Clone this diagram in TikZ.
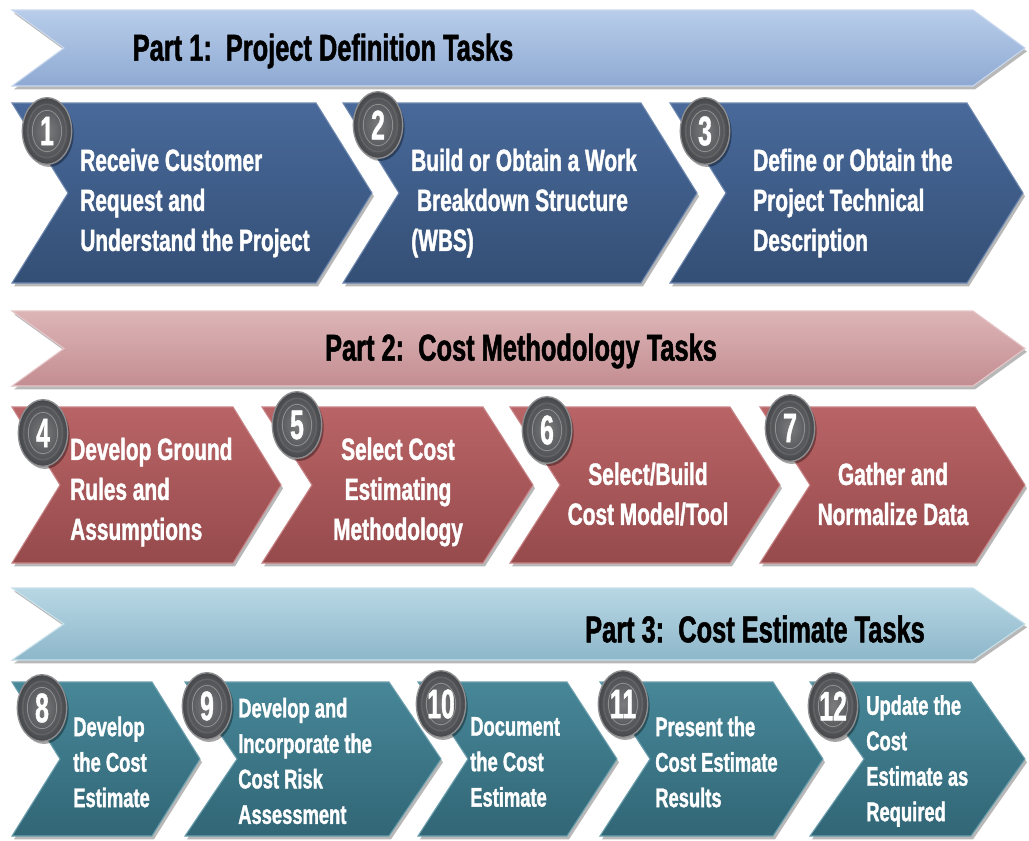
\documentclass[tikz,border=0pt]{standalone}
\usepackage{fontspec}
\setmainfont{Liberation Sans}[FakeStretch=0.68,BoldFeatures={FakeBold=1.3}]
\newfontfamily\discfont{Liberation Sans}[FakeStretch=0.6,BoldFeatures={FakeBold=1}]
\usetikzlibrary{shapes.geometric,shadows}

% band colours
\definecolor{bandAtop}{HTML}{B8CDEA}
\definecolor{bandAbot}{HTML}{8EA9D2}
\definecolor{bandAedge}{HTML}{C9D8EE}
\definecolor{bandBtop}{HTML}{DDB5B7}
\definecolor{bandBbot}{HTML}{C38D91}
\definecolor{bandBedge}{HTML}{E6C6C8}
\definecolor{bandCtop}{HTML}{B8D7E4}
\definecolor{bandCbot}{HTML}{8DB7CA}
\definecolor{bandCedge}{HTML}{C9E1EB}
% step colours
\definecolor{stepAtop}{HTML}{48699A}
\definecolor{stepAbot}{HTML}{344F75}
\definecolor{stepBtop}{HTML}{B96466}
\definecolor{stepBbot}{HTML}{964A4C}
\definecolor{stepCtop}{HTML}{478798}
\definecolor{stepCbot}{HTML}{316676}
% number discs
\definecolor{discout}{HTML}{46484C}
\definecolor{discin}{HTML}{7C7C7E}
\definecolor{discrim}{HTML}{8E8E90}

% arrow band / chevron outline: x1, x2, ytop, ybottom, point depth, style
\newcommand\chevronpath[6]{%
  \path[#6] (#1,#3) -- ({#2-#5},#3) -- (#2,{(#3+#4)/2}) -- ({#2-#5},#4)
    -- (#1,#4) -- ({#1+#5},{(#3+#4)/2}) -- cycle;}

\begin{document}
\begin{tikzpicture}[x=0.75pt,y=-0.75pt,
  softshadow/.style={drop shadow={shadow xshift=1.5pt,shadow yshift=-2.5pt,opacity=0.28,fill=black}},
  bandA/.style={softshadow,top color=bandAtop,bottom color=bandAbot,draw=bandAedge,line width=0.8pt},
  bandB/.style={softshadow,top color=bandBtop,bottom color=bandBbot,draw=bandBedge,line width=0.8pt},
  bandC/.style={softshadow,top color=bandCtop,bottom color=bandCbot,draw=bandCedge,line width=0.8pt},
  stepA/.style={softshadow,top color=stepAtop,bottom color=stepAbot,draw=stepAtop!80!white,line width=0.8pt},
  stepB/.style={softshadow,top color=stepBtop,bottom color=stepBbot,draw=stepBtop!80!white,line width=0.8pt},
  stepC/.style={softshadow,top color=stepCtop,bottom color=stepCbot,draw=stepCtop!80!white,line width=0.8pt},
  parttitle/.style={text=black,font=\bfseries\fontsize{28}{34}\selectfont,inner sep=0pt},
  bigtask/.style={text=white,font=\bfseries\fontsize{23}{30}\selectfont,inner sep=0pt,align=left,anchor=west},
  bigtaskc/.style={text=white,font=\bfseries\fontsize{23}{30}\selectfont,inner sep=0pt,align=center},
  smalltask/.style={text=white,font=\bfseries\fontsize{20.25}{26.6}\selectfont,inner sep=0pt,align=left,anchor=west},
  numdisc/.style={ellipse,minimum width=37pt,minimum height=50pt,inner sep=0pt,
    inner color=discin,outer color=discout,draw=discrim,line width=1pt,
    drop shadow={shadow xshift=1.5pt,shadow yshift=-2pt,opacity=0.35,fill=black},
    text=white,font=\discfont\bfseries\fontsize{31}{32}\selectfont,
    path picture={
      \draw[discrim!70!black,line width=1.2pt] (path picture bounding box.center) ellipse (14.5pt and 20pt);
      \draw[discin!85!white,line width=0.6pt] (path picture bounding box.center) ellipse (11pt and 15.5pt);
    }},
]
\useasboundingbox[fill=white] (0,0) rectangle (1029,840);

% ---------------- Part 1 ----------------
\chevronpath{12}{1025}{10}{86}{52}{bandA}
\node[parttitle] (p1) at (323,51) {Part 1:\ \ Project Definition Tasks};

\chevronpath{12}{372}{103}{283}{56}{stepA}
\chevronpath{343}{697}{103}{283}{56}{stepA}
\chevronpath{670}{1023}{103}{283}{56}{stepA}

\node[bigtask] (t1) at (80,203) {Receive Customer\\Request and\\Understand the Project};
\node[bigtask] (t2) at (411,203) {Build or Obtain a Work\\\ Breakdown Structure\\(WBS)};
\node[bigtask] (t3) at (753,203) {Define or Obtain the\\Project Technical\\Description};

\node[numdisc] (n1) at (47,131) {1};
\node[numdisc] (n2) at (378,125) {2};
\node[numdisc] (n3) at (705,131) {3};

% ---------------- Part 2 ----------------
\chevronpath{12}{1025}{311}{386}{52}{bandB}
\node[parttitle] (p2) at (521,351) {Part 2:\ \ Cost Methodology Tasks};

\chevronpath{12}{281}{407}{563}{48}{stepB}
\chevronpath{262}{533}{407}{563}{50}{stepB}
\chevronpath{510}{780}{407}{563}{50}{stepB}
\chevronpath{760}{1025}{407}{563}{50}{stepB}

\node[bigtask] (t4) at (70,492) {Develop Ground\\Rules and\\Assumptions};
\node[bigtaskc] (t5) at (398,492) {Select Cost\\Estimating\\Methodology};
\node[bigtaskc] (t6) at (648,494) {Select/Build\\Cost Model/Tool};
\node[bigtaskc] (t7) at (893,494) {Gather and\\Normalize Data};

\node[numdisc] (n4) at (43,433) {4};
\node[numdisc] (n5) at (297,425) {5};
\node[numdisc] (n6) at (547,430) {6};
\node[numdisc] (n7) at (790,428) {7};

% ---------------- Part 3 ----------------
\chevronpath{12}{1025}{588}{660}{52}{bandC}
\node[parttitle] (p3) at (755,629) {Part 3:\ \ Cost Estimate Tasks};

\chevronpath{12}{200}{682}{836}{48}{stepC}
\chevronpath{185}{441}{682}{836}{52}{stepC}
\chevronpath{418}{617}{682}{836}{50}{stepC}
\chevronpath{600}{823}{682}{836}{50}{stepC}
\chevronpath{810}{1025}{682}{836}{54}{stepC}

\node[smalltask] (t8) at (73,762) {Develop\\the Cost\\Estimate};
\node[smalltask] (t9) at (238,761) {Develop and\\Incorporate the\\Cost Risk\\Assessment};
\node[smalltask] (t10) at (470,762) {Document\\the Cost\\Estimate};
\node[smalltask] (t11) at (655,762) {Present the\\Cost Estimate\\Results};
\node[smalltask] (t12) at (866,761) {Update the\\Cost\\Estimate as\\Required};

\node[numdisc] (n8) at (42,708) {8};
\node[numdisc] (n9) at (207,706) {9};
\node[numdisc] (n10) at (441,704) {10};
\node[numdisc] (n11) at (623,704) {11};
\node[numdisc] (n12) at (833,706) {12};
\end{tikzpicture}
\end{document}
